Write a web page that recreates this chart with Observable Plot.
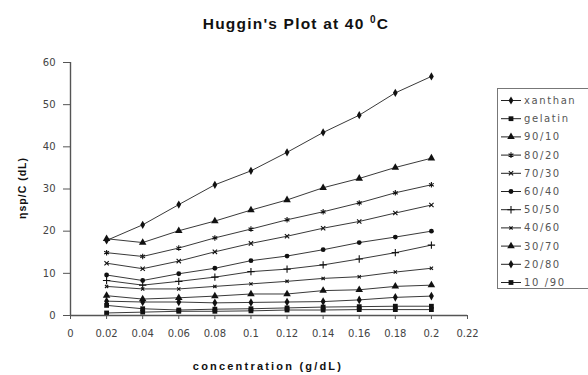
<!DOCTYPE html>
<html>
<head>
<meta charset="utf-8">
<script src="https://cdn.jsdelivr.net/npm/d3@7"></script>
<script src="https://cdn.jsdelivr.net/npm/@observablehq/plot@0.6"></script>
<style>
  html, body { margin: 0; padding: 0; background: #fff; }
  svg { display: block; }
</style>
</head>
<body>
<div id="chart"></div>
<script>
// ---- data ----
const concentration = [0.02, 0.04, 0.06, 0.08, 0.10, 0.12, 0.14, 0.16, 0.18, 0.20];
const seriesNames = ["xanthan", "gelatin", "90/10", "80/20", "70/30", "60/40", "50/50", "40/60", "30/70", "20/80", "10 /90"];
const xanthan = [17.8, 21.5, 26.3, 31.0, 34.3, 38.7, 43.4, 47.5, 52.8, 56.7];
const gelatin = [0.6, 0.8, 1.0, 1.0, 1.1, 1.3, 1.3, 1.4, 1.4, 1.4];
const s90_10 = [18.2, 17.3, 20.1, 22.4, 25.0, 27.4, 30.3, 32.5, 35.1, 37.3];
const s80_20 = [14.9, 14.0, 16.0, 18.4, 20.5, 22.7, 24.6, 26.7, 29.1, 31.0];
const s70_30 = [12.4, 11.1, 12.9, 15.1, 17.1, 18.8, 20.7, 22.3, 24.3, 26.2];
const s60_40 = [9.6, 8.3, 9.9, 11.2, 13.0, 14.1, 15.6, 17.3, 18.6, 20.0];
const s50_50 = [8.3, 7.2, 8.1, 9.1, 10.4, 11.0, 12.0, 13.4, 14.9, 16.7];
const s40_60 = [6.9, 6.3, 6.3, 6.9, 7.5, 8.1, 8.8, 9.2, 10.3, 11.2];
const s30_70 = [4.7, 3.9, 4.2, 4.6, 5.1, 5.1, 5.9, 6.1, 6.9, 7.2];
const s20_80 = [3.4, 3.2, 3.2, 3.0, 3.1, 3.2, 3.3, 3.7, 4.3, 4.6];
const s10_90 = [2.4, 1.6, 1.3, 1.5, 1.6, 1.8, 2.0, 2.1, 2.2, 2.2];
const seriesValues = [xanthan, gelatin, s90_10, s80_20, s70_30, s60_40, s50_50, s40_60, s30_70, s20_80, s10_90];
const xTicks = [0, 0.02, 0.04, 0.06, 0.08, 0.1, 0.12, 0.14, 0.16, 0.18, 0.2, 0.22];
const yTicks = [0, 10, 20, 30, 40, 50, 60];
const titleMain = "Huggin's Plot at 40 ";
const titleSup = "0";
const titleEnd = "C";
const xLabel = "concentration (g/dL)";
const yLabel = "ηsp/C (dL)";

// ---- styling per series ----
const symbols = ["diamond", "square", "triangle", "asterisk", "times", "circle", "plus", "times", "triangle", "diamond", "square"];
const filled  = [true, true, true, false, false, true, false, false, true, true, true];
const radius  = [2.5, 2.7, 2.8, 2.6, 2.1, 2.4, 2.5, 1.6, 2.8, 2.6, 2.7];

const rows = [];
seriesNames.forEach((s, i) => {
  concentration.forEach((c, j) => rows.push({series: s, c, v: seriesValues[i][j]}));
});

const dotMarks = seriesNames.map((s, i) =>
  Plot.dot(rows.filter(d => d.series === s), {
    x: "c", y: "v", symbol: symbols[i], r: radius[i],
    fill: filled[i] ? "#111" : "none",
    stroke: filled[i] ? "none" : "#111",
    strokeWidth: 1.1
  })
);

const plot = Plot.plot({
  width: 588,
  height: 375,
  marginLeft: 70,
  marginRight: 121,
  marginTop: 62,
  marginBottom: 60,
  style: {fontFamily: "DejaVu Sans, sans-serif", fontSize: "10px", color: "#444", background: "#fff"},
  x: {domain: [0, 0.22]},
  y: {domain: [0, 60]},
  marks: [
    Plot.axisY({ticks: yTicks, tickSize: 7, tickPadding: 8, label: null, stroke: "#555"}),
    Plot.axisX({ticks: xTicks, tickSize: 4, tickPadding: 10, label: null, stroke: "#555",
      tickFormat: d => String(+d.toFixed(2))}),
    Plot.line(rows, {x: "c", y: "v", z: "series", stroke: "#222", strokeWidth: 0.9}),
    ...dotMarks,
    Plot.ruleY([0], {stroke: "#555", strokeWidth: 1.4}),
    Plot.ruleX([0], {stroke: "#555", strokeWidth: 1.4})
  ]
});

document.getElementById("chart").appendChild(plot);

// ---- titles and legend (drawn into the same SVG) ----
const svg = d3.select(plot);
const t = svg.append("text")
  .attr("x", 296).attr("y", 29)
  .attr("text-anchor", "middle")
  .style("font-family", "Liberation Sans, Arial, sans-serif")
  .style("font-weight", "bold")
  .style("font-size", "15.5px")
  .style("letter-spacing", "1.2px")
  .attr("fill", "#111");
t.append("tspan").text(titleMain);
t.append("tspan").attr("dy", -6).style("font-size", "10px").text(titleSup);
t.append("tspan").attr("dy", 6).text(titleEnd);

svg.append("text")
  .attr("x", 268).attr("y", 370)
  .attr("text-anchor", "middle")
  .style("font-family", "Liberation Sans, Arial, sans-serif")
  .style("font-weight", "bold")
  .style("font-size", "11px")
  .style("letter-spacing", "2.2px")
  .attr("fill", "#111")
  .text(xLabel);

svg.append("text")
  .attr("transform", "translate(26,188) rotate(-90)")
  .attr("text-anchor", "middle")
  .style("font-family", "Liberation Sans, Arial, sans-serif")
  .style("font-weight", "bold")
  .style("font-size", "10.5px")
  .style("letter-spacing", "1px")
  .attr("fill", "#111")
  .text(yLabel);

const symMap = {
  diamond: d3.symbolDiamond, square: d3.symbolSquare, triangle: d3.symbolTriangle,
  asterisk: d3.symbolAsterisk, times: d3.symbolTimes, circle: d3.symbolCircle, plus: d3.symbolPlus
};
const lg = svg.append("g");
lg.append("rect").attr("x", 497.5).attr("y", 88.5).attr("width", 110).attr("height", 200)
  .attr("fill", "#fff").attr("stroke", "#777").attr("stroke-width", 1);
seriesNames.forEach((s, i) => {
  const y = 100.5 + i * 18.2;
  lg.append("line").attr("x1", 501).attr("x2", 521).attr("y1", y).attr("y2", y)
    .attr("stroke", "#222").attr("stroke-width", 1);
  lg.append("path")
    .attr("transform", `translate(511,${y})`)
    .attr("d", d3.symbol(symMap[symbols[i]], Math.PI * radius[i] * radius[i])())
    .attr("fill", filled[i] ? "#111" : "none")
    .attr("stroke", filled[i] ? "none" : "#111")
    .attr("stroke-width", 1.1);
  lg.append("text").attr("x", 524).attr("y", y).attr("dy", "0.35em")
    .attr("text-anchor", "start")
    .style("font-family", "DejaVu Sans, sans-serif")
    .style("font-size", "10px")
    .style("letter-spacing", "1.6px")
    .attr("fill", "#555")
    .text(s);
});
</script>
</body>
</html>
